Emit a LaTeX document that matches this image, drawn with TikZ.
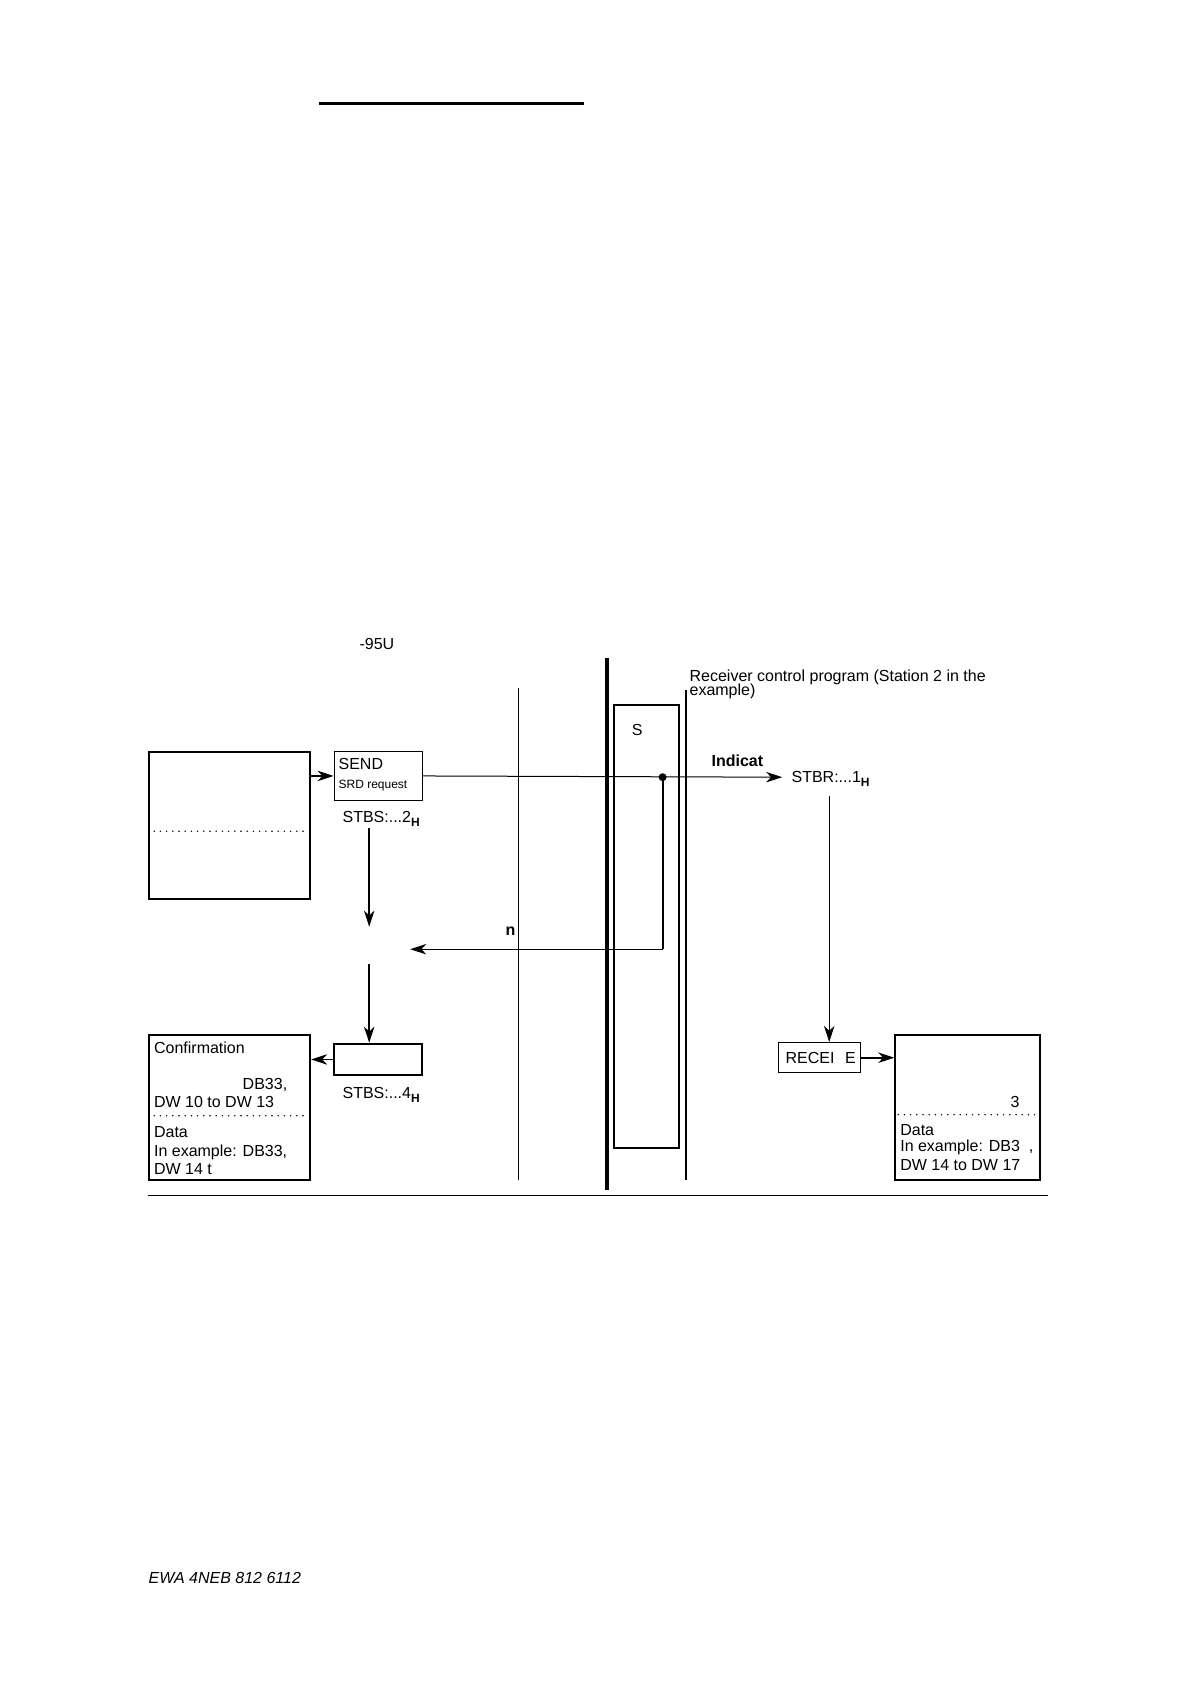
\documentclass[tikz,border=0pt]{standalone}
\usepackage{fontspec}
\setmainfont{Liberation Sans}
\usetikzlibrary{arrows.meta}
\newcommand{\subH}{\raisebox{-2pt}{\fontsize{6}{6}\selectfont\bfseries H}}
\tikzset{
  txt/.style={inner sep=0pt, anchor=base west, font=\fontsize{8}{9}\selectfont},
  pxbox/.style 2 args={draw, inner sep=0pt, minimum width=#1*0.5pt, minimum height=#2*0.5pt},
  arr/.style={-{Stealth[length=8pt,width=5.2pt,inset=2.4pt]}},
  dotline/.style={line width=0.8pt, line cap=round, dash pattern=on 0pt off 3.1pt},
}
\begin{document}
\begin{tikzpicture}[x=0.5pt,y=-0.5pt]
\useasboundingbox (0,0) rectangle (1194,1684);
\begin{scope}[shift={(1.2,1.2)}]
% top rule
\draw[line width=1.5pt] (318,102) -- (583,102);

% vertical separators
\draw[line width=1.8pt] (605.6,657) -- (605.6,1188.6);
\draw[line width=0.5pt] (517.5,687) -- (517.5,1179);
\draw[line width=1pt] (685,689) -- (685,1179);

% S box
\node[pxbox={64.5}{443}, line width=0.9pt] (sbox) at (645.25,925.5) {};
\node[inner sep=0pt, font=\fontsize{8}{9}\selectfont] (stxt) at (636,729) {S};

% texts
\node[txt] (title) at (358,648) {-95U};
\node[txt] (recv1) at (688,680) {Receiver control program (Station 2 in the};
\node[txt] (recv2) at (688,694) {example)};

% left top box
\node[pxbox={161}{147}, line width=0.9pt] (lbox) at (228.5,824) {};
\draw[dotline] (153,830) -- (305,830);

% SEND box
\node[pxbox={88}{48.5}, line width=0.6pt] (send) at (377,774.75) {};
\node[txt] (sendtxt) at (337,768) {SEND};
\node[txt, font=\fontsize{6}{7}\selectfont] (srdtxt) at (337,787) {SRD request};
\node[txt] (stbs2) at (341,821) {STBS:...2\subH};

\draw[arr, line width=0.8pt] (lbox.east |- send.west) -- (send.west);

% indication line
\coordinate (tip) at (781,776);
\coordinate (dot) at (661.4,776);
\draw[arr, line width=0.5pt] (send.east) -- (tip);
\fill (dot) circle (4);
\node[txt, font=\fontsize{8}{9}\selectfont\bfseries] (indicat) at (710,765) {Indicat};
\node[txt] (stbr) at (790,781) {STBR:...1\subH};

% return path
\coordinate (corner) at (661.4,948);
\coordinate (ret) at (409,948);
\draw[line width=1pt] (dot) -- (corner);
\draw[arr, line width=0.5pt] (corner) -- (ret);
\node[txt, font=\fontsize{8}{9}\selectfont\bfseries] (ntxt) at (504,934) {n};

% SEND down arrows
\coordinate (d1a) at (368,827);
\coordinate (d1b) at (368,925.5);
\coordinate (d2a) at (368,963);
\draw[arr, line width=0.9pt] (d1a) -- (d1b);

% ack box
\node[pxbox={88}{31.5}, line width=1pt] (ack) at (377,1058.25) {};
\draw[arr, line width=0.9pt] (d2a) -- (d2a |- ack.north);
\node[txt] (stbs4) at (341,1097) {STBS:...4\subH};

% confirmation box
\node[pxbox={161}{145}, line width=0.9pt] (conf) at (228.5,1106.5) {};
\draw[dotline] (153,1114.5) -- (305,1114.5);
\draw[arr, line width=0.8pt] (ack.west) -- (ack.west -| conf.east);
\node[txt] (c1) at (152.5,1052) {Confirmation};
\node[txt] (c2) at (152.5,1088) {\phantom{In example: }DB33,};
\node[txt] (c3) at (152.5,1106) {DW 10 to DW 13};
\node[txt] (c4) at (152.5,1136) {Data};
\node[txt] (c5) at (152.5,1155) {In example: DB33,};
\node[txt] (c6) at (152.5,1173) {DW 14 t};

% receiver side
\node[pxbox={82}{30}, line width=0.7pt] (recv) at (818,1056.5) {};
\node[txt] (recvtxt) at (784,1062) {RECEI\phantom{V}E};
\coordinate (r1a) at (828,794.5);
\draw[arr, line width=0.5pt] (r1a) -- (r1a |- recv.north);

\node[pxbox={145}{145}, line width=0.9pt] (rbox) at (966.5,1106.5) {};
\draw[dotline] (897,1113.5) -- (1036,1113.5);
\draw[arr, line width=0.9pt] (recv.east) -- (recv.east -| rbox.west);
\node[txt] (r3) at (1009,1106) {3};
\node[txt] (r4) at (898.7,1134) {Data};
\node[txt] (r5) at (898.7,1150.5) {In example: DB3\phantom{3},};
\node[txt] (r6) at (898.7,1169) {DW 14 to DW 17};

% bottom rule
\draw[line width=0.7pt] (147,1194) -- (1047,1194);

% footer
\node[txt, font=\fontsize{8}{9}\selectfont\itshape] (footer) at (147,1582) {EWA 4NEB 812 6112};
\end{scope}
\end{tikzpicture}
\end{document}
